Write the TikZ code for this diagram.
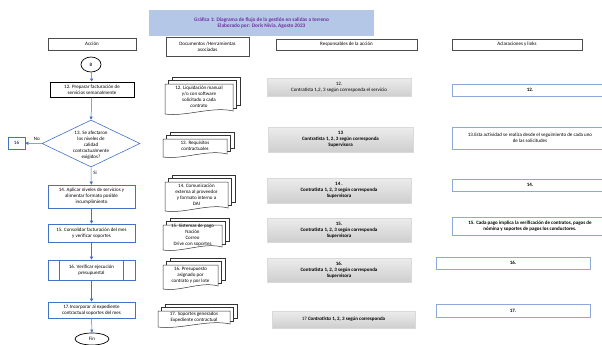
\documentclass[tikz,border=0pt]{standalone}
\usepackage{fontspec}
\setmainfont{Carlito}
\usetikzlibrary{arrows.meta,shapes.geometric}
\definecolor{flowblue}{HTML}{4472C4}
\definecolor{titlebg}{HTML}{B4C7E7}
\definecolor{titlefg}{HTML}{7030A0}
\definecolor{noteblue}{HTML}{8EA9DB}
\tikzset{
  docsheet/.style={draw=black!80, line width=0.5pt, fill=white},
}
\newcommand\MultiDocShape[6]{%
  \draw[docsheet] (#2+7,#3-7) rectangle (#4+7,#5-9);
  \draw[docsheet] (#2+3.5,#3-3.5) rectangle (#4+3.5,#5-5.5);
  \draw[docsheet] (#2,#3) -- (#4,#3) -- (#4,#5-3) .. controls (#4-0.3*#4+0.3*#2,#5-8) and (#2+0.3*#4-0.3*#2,#5+3) .. (#2,#5) -- cycle;
  \node (#1) at ({(#2+#4)/2},{(#3+#5)/2-2}) {#6};
}
\begin{document}
\begin{tikzpicture}[x=1pt,y=-1pt,
  every node/.style={font=\fontsize{5}{6}\selectfont, inner sep=0pt, align=center},
  hdr/.style={draw=black!70, line width=0.7pt, fill=white},
  actbox/.style={draw=flowblue, line width=0.6pt, fill=white},
  greybox/.style={top color=gray!15, bottom color=gray!38, draw=gray!30, line width=0.3pt},
  notebox/.style={draw=noteblue, line width=0.8pt, fill=white},
  flow/.style={draw=flowblue, line width=0.5pt, -{Triangle[length=3pt,width=3pt]}},
]
\useasboundingbox (0,0) rectangle (602,345);

% title
\node[fill=titlebg, minimum width=225pt, minimum height=26pt, text=titlefg, font=\fontsize{5.3}{6.5}\selectfont\bfseries] (title) at (261.5,23)
  {Gráfica 1: Diagrama de flujo de la gestión en salidas a terreno\\Elaborado por: Doris Nivia, Agosto 2023};

% headers
\node[hdr, minimum width=88pt, minimum height=12pt] (hAccion) at (92,44) {Acción};
\node[hdr, minimum width=83pt, minimum height=19pt] (hDoc) at (207.5,46.5) {Documentos /Herramientas\\asociadas};
\node[hdr, minimum width=141pt, minimum height=11pt] (hResp) at (346.5,44.5) {Responsables de la acción};
\node[hdr, minimum width=130pt, minimum height=11pt] (hAcl) at (517,44.5) {Aclaraciones y links};

% column 1: flow
\node[ellipse, draw=black, line width=0.7pt, fill=white, minimum width=20pt, minimum height=15pt] (B) at (91,64.5) {B};
\node[draw=black, line width=0.9pt, fill=white, minimum width=84pt, minimum height=15pt] (a12) at (92,89.5) {12. Preparar facturación de\\servicios semanalmente};
\node[diamond, draw=flowblue, line width=0.6pt, fill=white, minimum width=98pt, minimum height=47pt] (d13) at (91,143.5) {};
\node (d13t) at (91,145) {13. Se afectaron\\los niveles de\\calidad\\contractualmente\\exigidos?};
\node[actbox, minimum width=17pt, minimum height=12pt] (n16) at (16.5,143) {16};
\node[actbox, minimum width=87pt, minimum height=23pt] (a14) at (91.5,196.5) {14. Aplicar niveles de servicios y\\alimentar formato posible\\incumplimiento};
\node[actbox, minimum width=87pt, minimum height=18pt] (a15) at (91.5,233) {15. Consolidar facturación del mes\\y verificar soportes};
\node[actbox, minimum width=87pt, minimum height=20pt] (a16) at (91.5,270) {16. Verificar ejecución\\presupuestal};
\draw[flowblue, line width=0.6pt] ([xshift=12pt]a16.north west) -- ([xshift=12pt]a16.south west);
\draw[flowblue, line width=0.6pt] ([xshift=-12pt]a16.north east) -- ([xshift=-12pt]a16.south east);
\node[actbox, minimum width=87pt, minimum height=16pt] (a17) at (91.5,310) {17.Incorporar al expediente\\contractual soportes del mes};
\node[ellipse, draw=black, line width=0.7pt, fill=white, minimum width=34pt, minimum height=12pt] (fin) at (92,339) {Fin};

\draw[flow] (B) -- (a12);
\draw[flow] (a12) -- (d13.north);
\draw[flow] (d13.south) -- node[pos=0.3, right=2pt]{Si} (a14);
\draw[flow] (d13.west) -- node[pos=0.3, above=3pt]{No} (n16);
\draw[flow] (a14) -- (a15);
\draw[flow] (a15) -- (a16);
\draw[flow] (a16) -- (a17);
\draw[flow] (a17) -- (fin);

% column 2: documents
\MultiDocShape{doc12}{165}{84}{233}{114}{12. Liquidación manual\\y/o con software\\solicitado a cada\\contrato}
\MultiDocShape{doc13}{163}{139}{227}{157}{13. Requisitos\\contractuales}
\MultiDocShape{doc14}{165}{182}{228}{211}{14. Comunicación\\externa al proveedor\\y formato interno a\\DAI}
\MultiDocShape{doc15}{163}{225}{222}{250}{15. Sistemas de pago\\Nación\\Correo\\Drive con soportes}
\MultiDocShape{doc16}{163}{265}{218}{289}{16. Presupuesto\\asignado por\\contrato y por lote}
\MultiDocShape{doc17}{158}{311}{230}{327}{17. Soportes generados\\Expediente contractual}

% column 3: responsables
\node[greybox, minimum width=144pt, minimum height=18pt] (r12) at (339,87) {12.\\Contratista 1,2, 3 según corresponda el servicio};
\node[greybox, minimum width=145pt, minimum height=25pt, font=\fontsize{5}{6}\selectfont\bfseries] (r13) at (340.5,139.5) {13\\Contratista 1, 2, 3 según corresponda\\Supervisora};
\node[greybox, minimum width=144pt, minimum height=25pt, font=\fontsize{5}{6}\selectfont\bfseries] (r14) at (339,190.5) {14 .\\Contratista 1, 2, 3 según corresponda\\Supervisora};
\node[greybox, minimum width=144pt, minimum height=24pt, font=\fontsize{5}{6}\selectfont\bfseries] (r15) at (339,230) {15.\\Contratista 1, 2, 3 según corresponda\\Supervisora};
\node[greybox, minimum width=144pt, minimum height=24pt, font=\fontsize{5}{6}\selectfont\bfseries] (r16) at (339,270) {16.\\Contratista 1, 2, 3 según corresponda\\Supervisora};
\node[greybox, minimum width=143pt, minimum height=17pt] (r17) at (343.5,319.5) {17 \textbf{\textit{Contratista}} \textbf{1, 2, 3 según corresponda}};

% column 4: aclaraciones
\node[notebox, minimum width=156pt, minimum height=12pt, font=\fontsize{5}{6}\selectfont\bfseries] (c12) at (530,90) {12.};
\node[notebox, minimum width=156pt, minimum height=22pt] (c13) at (530,138) {13.Esta actividad se realiza desde el seguimiento de cada uno\\de las solicitudes};
\node[notebox, minimum width=156pt, minimum height=12pt, font=\fontsize{5}{6}\selectfont\bfseries] (c14) at (530,185) {14.};
\node[notebox, minimum width=156pt, minimum height=18pt, font=\fontsize{5}{6}\selectfont\bfseries] (c15) at (530,226) {15. Cada pago implica la verificación de contratos, pagos de\\nómina y soportes de pagos los conductores.};
\node[notebox, minimum width=154pt, minimum height=12pt, font=\fontsize{5}{6}\selectfont\bfseries] (c16) at (513,263) {16.};
\node[notebox, minimum width=154pt, minimum height=13pt, font=\fontsize{5}{6}\selectfont\bfseries] (c17) at (513,310.5) {17.};
\end{tikzpicture}
\end{document}
